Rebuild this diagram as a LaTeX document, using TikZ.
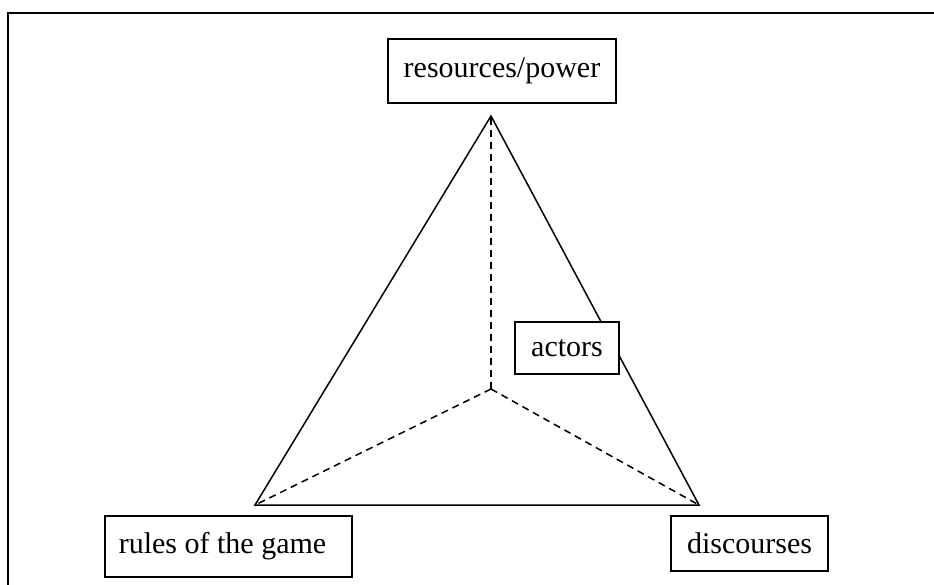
\documentclass[tikz,border=0pt]{standalone}
\usepackage{fontspec}
\setmainfont{Liberation Serif}
\begin{document}
\begin{tikzpicture}[x=1pt,y=-1pt,
  labelbox/.style={draw, line width=1.9pt, fill=white, inner sep=0pt,
    font=\fontsize{30}{34}\selectfont},
  edge/.style={line width=1.5pt},
  dashedge/.style={line width=1.5pt, dash pattern=on 7pt off 5pt}]
\useasboundingbox (0,0) rectangle (934,585);
\draw[line width=1.6pt] (8,585) -- (8,13) -- (934,13);
\coordinate (apex) at (491,116);
\coordinate (bl) at (255,505);
\coordinate (br) at (699,505);
\coordinate (ctr) at (491,389);
\draw[edge] (apex) -- (bl) -- (br) -- cycle;
\draw[dashedge] (ctr) -- (apex);
\draw[dashedge] (ctr) -- (bl);
\draw[dashedge] (ctr) -- (br);
\node[labelbox, minimum width=228pt, minimum height=64pt] (res) at (502,71) {resources/power};
\node[labelbox, minimum width=104pt, minimum height=52pt] (act) at (567,348) {actors};
\node[labelbox, minimum width=247pt, minimum height=61pt] (rules) at (228.5,546.5) {rules of the game\hspace*{12pt}};
\node[labelbox, minimum width=157pt, minimum height=55pt] (disc) at (749.5,543.5) {discourses};
\end{tikzpicture}
\end{document}
